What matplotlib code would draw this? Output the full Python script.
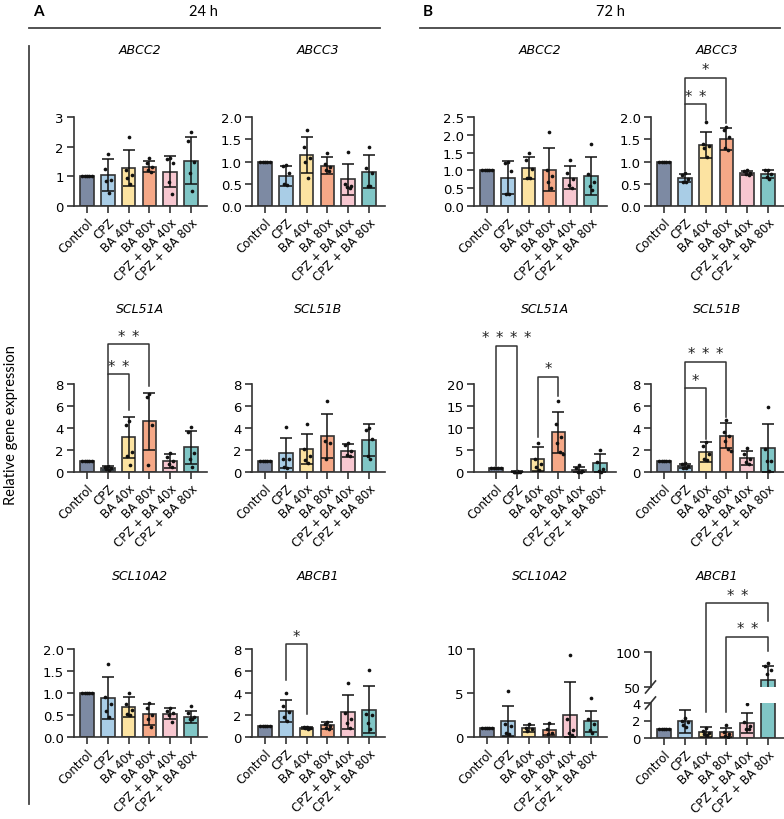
import matplotlib
matplotlib.use("Agg")
import matplotlib.pyplot as plt
from matplotlib.lines import Line2D
import numpy as np

plt.rcParams['font.family'] = ['DejaVu Sans']

W, H = 784, 820
fig = plt.figure(figsize=(W / 100, H / 100), dpi=100)

groups = ["Control", "CPZ", "BA 40x", "BA 80x", "CPZ + BA 40x", "CPZ + BA 80x"]
colors = ["#7d8aa3", "#a9cde6", "#fce3a1", "#f5a887", "#f7c7d0", "#80c6c6"]

# ---------------- 24 h ----------------
abcc2_24_mean = [1.0, 1.06, 1.28, 1.33, 1.15, 1.53]
abcc2_24_sd = [0.0, 0.54, 0.62, 0.2, 0.52, 0.8]
abcc2_24_pts = [[1, 1, 1, 1, 1], [1.75, 1.25, 0.87, 0.85, 0.45], [2.32, 1.2, 1.05, 0.95, 0.75],
                [1.62, 1.45, 1.3, 1.2, 1.15], [1.62, 1.58, 1.45, 0.8, 0.42], [2.48, 2.2, 1.47, 1.1, 0.5]]

abcc3_24_mean = [1.0, 0.68, 1.15, 0.91, 0.6, 0.77]
abcc3_24_sd = [0.0, 0.23, 0.4, 0.18, 0.35, 0.37]
abcc3_24_pts = [[1, 1, 1, 1, 1], [0.92, 0.9, 0.75, 0.5, 0.48], [1.7, 1.33, 1.07, 1.0, 0.63],
                [1.18, 0.95, 0.88, 0.82, 0.78], [1.22, 0.5, 0.45, 0.42, 0.4], [1.32, 0.85, 0.75, 0.45, 0.45]]

scl51a_24_mean = [1.0, 0.35, 3.15, 4.6, 0.97, 2.25]
scl51a_24_sd = [0.0, 0.2, 1.85, 2.6, 0.65, 1.5]
scl51a_24_pts = [[1, 1, 1, 1, 1], [0.55, 0.45, 0.35, 0.25, 0.2], [4.6, 4.3, 1.8, 1.5, 0.65],
                 [7.05, 6.85, 4.3, 0.65], [1.7, 1.4, 1.0, 0.75, 0.5], [4.05, 3.6, 1.7, 1.2, 0.5]]

scl51b_24_mean = [1.0, 1.73, 2.1, 3.25, 1.95, 2.95]
scl51b_24_sd = [0.0, 1.4, 1.4, 2.0, 0.6, 1.45]
scl51b_24_pts = [[1, 1, 1, 1, 1], [4.1, 1.2, 1.2, 0.5, 0.4], [4.4, 2.1, 1.5, 1.1, 0.85],
                 [6.5, 2.8, 2.6, 1.2], [2.6, 2.5, 1.9, 1.55, 1.5], [4.0, 3.8, 3.0, 1.5, 1.15]]

scl10a2_24_mean = [1.0, 0.88, 0.68, 0.52, 0.53, 0.45]
scl10a2_24_sd = [0.0, 0.48, 0.22, 0.24, 0.13, 0.13]
scl10a2_24_pts = [[1, 1, 1, 1, 1], [1.65, 0.9, 0.75, 0.6, 0.45], [1.0, 0.75, 0.62, 0.52, 0.5],
                  [0.78, 0.65, 0.5, 0.4, 0.22], [0.66, 0.6, 0.55, 0.5, 0.33], [0.7, 0.55, 0.45, 0.4, 0.4]]

abcb1_24_mean = [1.0, 2.35, 0.85, 1.05, 2.25, 2.5]
abcb1_24_sd = [0.0, 1.0, 0.1, 0.3, 1.55, 2.1]
abcb1_24_pts = [[1, 1, 1, 1, 1], [4.0, 2.8, 2.3, 1.8, 1.5], [0.95, 0.9, 0.85, 0.8, 0.75],
                [1.35, 1.2, 1.0, 0.8, 0.75], [4.9, 2.2, 1.6, 1.3, 0.8], [6.1, 2.1, 2.0, 1.3, 0.7]]

# ---------------- 72 h ----------------
abcc2_72_mean = [1.0, 0.8, 1.07, 1.02, 0.8, 0.85]
abcc2_72_sd = [0.0, 0.47, 0.32, 0.61, 0.32, 0.53]
abcc2_72_pts = [[1, 1, 1, 1, 1], [1.25, 1.2, 0.97, 0.35, 0.33], [1.5, 1.3, 1.05, 0.8, 0.78],
                [2.08, 1.0, 0.85, 0.68, 0.5], [1.3, 0.92, 0.75, 0.6, 0.5], [1.75, 0.9, 0.68, 0.55, 0.45]]

abcc3_72_mean = [1.0, 0.63, 1.37, 1.5, 0.74, 0.72]
abcc3_72_sd = [0.0, 0.1, 0.3, 0.25, 0.05, 0.09]
abcc3_72_pts = [[1, 1, 1, 1, 1], [0.75, 0.7, 0.6, 0.55, 0.55], [1.88, 1.4, 1.35, 1.3, 1.1],
                [1.78, 1.7, 1.55, 1.3, 1.25], [0.8, 0.78, 0.75, 0.72, 0.7], [0.82, 0.8, 0.72, 0.65, 0.6]]

scl51a_72_mean = [1.0, 0.1, 2.95, 9.0, 0.5, 1.97]
scl51a_72_sd = [0.0, 0.05, 2.65, 4.7, 0.7, 2.1]
scl51a_72_pts = [[1, 1, 1, 1, 1], [0.15, 0.1, 0.08, 0.05, 0.05], [6.7, 3.0, 1.8, 1.2, 0.5],
                 [16.1, 11.0, 8.0, 6.5, 4.5, 4.2], [1.5, 1.0, 0.3, 0.1, 0.05], [5.0, 2.2, 0.6, 0.3, 0.1]]

scl51b_72_mean = [1.0, 0.55, 1.8, 3.3, 1.3, 2.15]
scl51b_72_sd = [0.0, 0.2, 0.9, 1.15, 0.65, 2.2]
scl51b_72_pts = [[1, 1, 1, 1, 1], [0.8, 0.7, 0.55, 0.4, 0.35], [2.7, 2.4, 1.6, 1.2, 1.1],
                 [4.7, 3.6, 3.3, 2.8, 2.1, 1.9], [2.2, 1.6, 1.2, 0.95, 0.75], [5.9, 2.1, 1.0, 1.0, 0.05]]

scl10a2_72_mean = [1.0, 1.8, 1.0, 0.85, 2.5, 1.8]
scl10a2_72_sd = [0.0, 1.7, 0.4, 0.65, 3.8, 1.2]
scl10a2_72_pts = [[1, 1, 1, 1, 1], [5.2, 1.5, 1.2, 0.5, 0.3], [1.5, 1.0, 0.9, 0.7],
                  [1.6, 0.9, 0.5, 0.3], [9.3, 2.0, 0.8, 0.5, 0.2], [4.4, 2.0, 1.5, 0.8, 0.5]]

abcb1_72_mean = [1.0, 1.9, 0.7, 0.65, 1.75, 60.0]
abcb1_72_sd = [0.0, 1.3, 0.6, 0.55, 1.15, 20.0]
abcb1_72_pts = [[1, 1, 1, 1, 1], [2.3, 2.0, 1.8, 1.5, 1.3], [1.2, 0.8, 0.6, 0.5, 0.4],
                [1.5, 0.7, 0.5, 0.2, 0.1], [3.9, 1.8, 1.4, 1.0, 1.0], [84, 80, 75, 68]]

# significance: (group i, group j, bracket top, left leg end, right leg end, stars)
sig_scl51a_24 = [(1, 2, 8.9, 0.7, 5.6, 2), (1, 3, 11.6, 8.9, 7.85, 2)]
sig_abcb1_24 = [(1, 2, 8.45, 5.2, 2.1, 1)]
sig_abcc3_72 = [(1, 2, 2.29, 0.79, 1.94, 2), (1, 3, 2.88, 2.29, 1.87, 1)]
sig_scl51a_72 = [(0, 1, 28.7, 1.4, 0.3, 4), (2, 3, 21.7, 7.9, 17.3, 1)]
sig_scl51b_72 = [(1, 2, 7.6, 0.9, 3.0, 1), (1, 3, 10.0, 7.6, 5.0, 3)]
# broken axis ABCB1 72 h: top on upper axis, left leg on lower axis, right leg on upper axis
sig_abcb1_72 = [(2, 5, 169.6, 2.94, 144.7, 2), (3, 5, 121.9, 3.0, 101.9, 2)]

# ---------------- styling helpers ----------------
SP = 20.8          # px per group
XL, XR = -0.65, 5.75
SPINE = "#333333"
EDGE = "#333333"
x = np.arange(len(groups))


def px_ax(left_px, top_px, bottom_px, xl=XL, xr=XR):
    left = left_px + (XL - xl) * SP
    width = (xr - xl) * SP
    ax = fig.add_axes([left / W, 1 - bottom_px / H, width / W, (bottom_px - top_px) / H])
    ax.set_xlim(xl, xr)
    for s in ("top", "right"):
        ax.spines[s].set_visible(False)
    for s in ("left", "bottom"):
        ax.spines[s].set_linewidth(1.2)
        ax.spines[s].set_color(SPINE)
    ax.tick_params(axis="both", direction="out", length=5, width=1.2, color=SPINE,
                   labelsize=9.5, pad=2)
    ax.patch.set_alpha(0)
    return ax


def offsets(n, control=False):
    if control:
        return np.linspace(-0.22, 0.22, n)
    pattern = [0.0, -0.14, 0.14, -0.07, 0.07, 0.2]
    return np.array(pattern[:n])


def draw_bars(ax, mean, sd, pts, clip=False):
    ax.bar(x, mean, width=0.66, color=colors, edgecolor=EDGE, linewidth=1.2, zorder=2,
           clip_on=True)
    for i in range(len(groups)):
        if sd[i] > 0:
            lower = min(sd[i], mean[i])
            ax.errorbar(x[i], mean[i], yerr=[[lower], [sd[i]]], fmt="none", ecolor="#111111",
                        elinewidth=1.1, capsize=4.5, capthick=1.1, zorder=3, clip_on=clip)
        p = np.array(pts[i])
        ax.scatter(x[i] + offsets(len(p), control=(i == 0)), p, s=7, color="#111111",
                   zorder=4, clip_on=clip, linewidths=0)


def set_xlabels(ax):
    ax.set_xticks(x)
    ax.set_xticklabels(groups, rotation=45, ha="right", rotation_mode="anchor", fontsize=8.5)


def to_fig(ax, xv, yv):
    d = ax.transData.transform((xv, yv))
    return fig.transFigure.inverted().transform(d)


def bracket(ax_top, ax_l, ax_r, i, j, ytop, yl, yr, nstars):
    p1 = to_fig(ax_l, i, yl)
    p2 = to_fig(ax_top, i, ytop)
    p3 = to_fig(ax_top, j, ytop)
    p4 = to_fig(ax_r, j, yr)
    fig.add_artist(Line2D([p1[0], p2[0], p3[0], p4[0]], [p1[1], p2[1], p3[1], p4[1]],
                          transform=fig.transFigure, color="#333333", lw=1.1))
    xm = (p2[0] + p3[0]) / 2
    step = 14 / W
    for k in range(nstars):
        xs = xm + (k - (nstars - 1) / 2) * step
        fig.text(xs, p2[1] + 8 / H, "*", ha="center", va="center", fontsize=10.5,
                 color="#222222")


def panel(left_px, top_px, bottom_px, mean, sd, pts, ymax, yticks, title, title_y,
          fmt="{:g}", sig=None, xl=XL):
    ax = px_ax(left_px, top_px, bottom_px, xl=xl)
    draw_bars(ax, mean, sd, pts)
    ax.set_ylim(0, ymax)
    ax.set_yticks(yticks)
    ax.set_yticklabels([fmt.format(t) for t in yticks])
    set_xlabels(ax)
    cx = (ax.get_position().x0 + ax.get_position().x1) / 2
    fig.text(cx, 1 - title_y / H, title, ha="center", va="center", fontsize=9,
             style="italic")
    if sig:
        for (i, j, yt, yl, yr, n) in sig:
            bracket(ax, ax, ax, i, j, yt, yl, yr, n)
    return ax


# columns (spine x positions in px) and rows (top/bottom px)
C1, C2, C3, C4 = 73.5, 251.5, 473.5, 650.5
R1 = (118, 207)
R2 = (385, 473)
R3 = (650, 738)
T1, T2, T3 = 50, 310, 577

f1 = "{:.1f}"
panel(C1, *R1, abcc2_24_mean, abcc2_24_sd, abcc2_24_pts, 3, [0, 1, 2, 3], "ABCC2", T1)
panel(C2, *R1, abcc3_24_mean, abcc3_24_sd, abcc3_24_pts, 2, [0, 0.5, 1, 1.5, 2], "ABCC3", T1, fmt=f1)
panel(C3, *R1, abcc2_72_mean, abcc2_72_sd, abcc2_72_pts, 2.5, [0, 0.5, 1, 1.5, 2, 2.5], "ABCC2", T1, fmt=f1)
panel(C4, *R1, abcc3_72_mean, abcc3_72_sd, abcc3_72_pts, 2, [0, 0.5, 1, 1.5, 2], "ABCC3", T1, fmt=f1,
      sig=sig_abcc3_72)

panel(C1, *R2, scl51a_24_mean, scl51a_24_sd, scl51a_24_pts, 8, [0, 2, 4, 6, 8], "SCL51A", T2,
      sig=sig_scl51a_24)
panel(C2, *R2, scl51b_24_mean, scl51b_24_sd, scl51b_24_pts, 8, [0, 2, 4, 6, 8], "SCL51B", T2)
panel(C3 - 9, *R2, scl51a_72_mean, scl51a_72_sd, scl51a_72_pts, 20, [0, 5, 10, 15, 20], "SCL51A", T2,
      sig=sig_scl51a_72, xl=XL - 9 / SP)
panel(C4, *R2, scl51b_72_mean, scl51b_72_sd, scl51b_72_pts, 8, [0, 2, 4, 6, 8], "SCL51B", T2,
      sig=sig_scl51b_72)

panel(C1, *R3, scl10a2_24_mean, scl10a2_24_sd, scl10a2_24_pts, 2, [0, 0.5, 1, 1.5, 2], "SCL10A2", T3, fmt=f1)
panel(C2, *R3, abcb1_24_mean, abcb1_24_sd, abcb1_24_pts, 8, [0, 2, 4, 6, 8], "ABCB1", T3,
      sig=sig_abcb1_24)
panel(C3, *R3, scl10a2_72_mean, scl10a2_72_sd, scl10a2_72_pts, 10, [0, 5, 10], "SCL10A2", T3)

# broken-axis ABCB1 72 h
ax_lo = px_ax(C4, 704, 739)
ax_hi = px_ax(C4, 653, 688)
ax_hi.spines["bottom"].set_visible(False)
ax_hi.set_xticks([])
draw_bars(ax_lo, abcb1_72_mean, abcb1_72_sd, abcb1_72_pts, clip=True)
draw_bars(ax_hi, abcb1_72_mean, abcb1_72_sd, abcb1_72_pts, clip=True)
ax_lo.set_ylim(0, 4)
ax_lo.set_yticks([0, 2, 4])
ax_hi.set_ylim(50, 100)
ax_hi.set_yticks([50, 100])
set_xlabels(ax_lo)
cx = (ax_lo.get_position().x0 + ax_lo.get_position().x1) / 2
fig.text(cx, 1 - T3 / H, "ABCB1", ha="center", va="center", fontsize=9, style="italic")
for yb in (688, 704):
    fig.add_artist(Line2D([(C4 - 5) / W, (C4 + 5) / W], [1 - (yb + 6) / H, 1 - (yb - 6) / H],
                          transform=fig.transFigure, color=SPINE, lw=1.2))
for (i, j, yt, yl, yr, n) in sig_abcb1_72:
    bracket(ax_hi, ax_lo, ax_hi, i, j, yt, yl, yr, n)

# ---------------- headers & frame ----------------
hdr = dict(family=["Lato", "DejaVu Sans"])
fig.text(38 / W, 1 - 12 / H, "A", ha="center", va="center", fontsize=11, weight="bold", **hdr)
fig.text(203 / W, 1 - 12 / H, "24 h", ha="center", va="center", fontsize=10.5, **hdr)
fig.text(428 / W, 1 - 12 / H, "B", ha="center", va="center", fontsize=11, weight="bold", **hdr)
fig.text(610 / W, 1 - 12 / H, "72 h", ha="center", va="center", fontsize=10.5, **hdr)
fig.add_artist(Line2D([29 / W, 380 / W], [1 - 29 / H, 1 - 29 / H], transform=fig.transFigure,
                      color="#444444", lw=1.3))
fig.add_artist(Line2D([420 / W, 780 / W], [1 - 29 / H, 1 - 29 / H], transform=fig.transFigure,
                      color="#444444", lw=1.3))
fig.add_artist(Line2D([29 / W, 29 / W], [1 - 47 / H, 1 - 805 / H], transform=fig.transFigure,
                      color="#444444", lw=1.3))
fig.text(11 / W, 1 - 425 / H, "Relative gene expression", rotation=90, ha="center", va="center",
         fontsize=10.5, **hdr)

fig.savefig("out.png", dpi=100, facecolor="white")
